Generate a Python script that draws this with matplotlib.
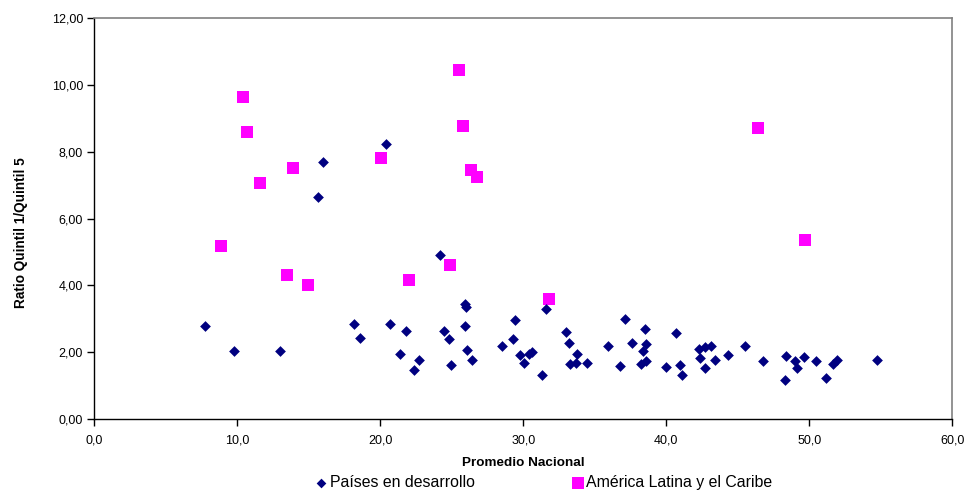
import matplotlib
matplotlib.use("Agg")
import matplotlib.pyplot as plt
from matplotlib.ticker import FuncFormatter, MultipleLocator

plt.rcParams['font.family'] = ['Liberation Sans', 'DejaVu Sans']

# Países en desarrollo
dev_x = [15.97, 15.66, 20.40, 7.76, 9.77, 12.97, 18.16, 18.58, 20.65,
         24.17, 21.80, 21.40, 22.38, 22.71, 24.48, 24.78, 24.97, 25.90, 25.97,
         25.90, 26.08, 26.39, 28.49, 29.40, 29.28, 29.79, 30.07, 30.40, 30.61,
         31.31, 31.57, 32.99, 33.20, 33.78, 33.27, 33.69, 34.48, 35.90, 36.76,
         37.09, 37.58, 38.49, 38.58, 38.37, 38.25, 38.60, 39.96, 40.65, 40.95,
         41.11, 42.27, 42.38, 42.68, 42.68, 43.10, 43.41, 44.29, 45.50, 46.78,
         48.37, 48.28, 48.98, 49.16, 49.61, 50.49, 51.19, 51.64, 51.92, 54.71]
dev_y = [7.70, 6.65, 8.25, 2.78, 2.05, 2.05, 2.85, 2.42, 2.85,
         4.91, 2.64, 1.94, 1.48, 1.76, 2.64, 2.39, 1.61, 3.43, 3.35,
         2.78, 2.07, 1.77, 2.19, 2.96, 2.39, 1.92, 1.67, 1.96, 2.01,
         1.31, 3.30, 2.60, 2.27, 1.95, 1.64, 1.69, 1.67, 2.19, 1.60,
         2.98, 2.29, 2.70, 2.25, 2.03, 1.66, 1.74, 1.55, 2.58, 1.61,
         1.31, 2.09, 1.84, 2.15, 1.52, 2.18, 1.76, 1.92, 2.19, 1.73,
         1.88, 1.17, 1.74, 1.53, 1.87, 1.73, 1.23, 1.66, 1.77, 1.77]

# América Latina y el Caribe
lac_x = [8.86, 10.38, 10.66, 11.57, 13.48, 13.87, 14.97, 20.07, 21.98,
         24.87, 25.48, 25.78, 26.36, 26.78, 31.77, 46.39, 49.70]
lac_y = [5.19, 9.63, 8.60, 7.08, 4.30, 7.51, 4.01, 7.82, 4.17,
         4.60, 10.45, 8.77, 7.46, 7.24, 3.59, 8.71, 5.35]

x_label = "Promedio Nacional"
y_label = "Ratio Quintil 1/Quintil 5"
series_names = ["Países en desarrollo", "América Latina y el Caribe"]

fig = plt.figure(figsize=(9.66, 4.90), dpi=100)
ax = fig.add_axes([0.0976, 0.1449, 0.8882, 0.8178])

ax.scatter(dev_x, dev_y, marker='D', s=30, color='#000080', linewidths=0,
           label=series_names[0], zorder=3)
ax.scatter(lac_x, lac_y, marker='s', s=80, color='#FF00FF', linewidths=0,
           label=series_names[1], zorder=2)

ax.set_xlim(0, 60)
ax.set_ylim(0, 12)
ax.xaxis.set_major_locator(MultipleLocator(10))
ax.yaxis.set_major_locator(MultipleLocator(2))
ax.xaxis.set_major_formatter(FuncFormatter(lambda v, p: f"{v:.1f}".replace('.', ',')))
ax.yaxis.set_major_formatter(FuncFormatter(lambda v, p: f"{v:.2f}".replace('.', ',')))
ax.tick_params(axis='both', direction='out', length=5, width=1, labelsize=9,
               color='black', labelcolor='black', pad=3)
ax.tick_params(axis='x', pad=6)

for s in ['left', 'bottom']:
    ax.spines[s].set_color('black')
    ax.spines[s].set_linewidth(1.0)
for s in ['top', 'right']:
    ax.spines[s].set_color('#808080')
    ax.spines[s].set_linewidth(1.2)

ax.set_xlabel(x_label, fontsize=9.7, fontweight='bold', labelpad=8)
ax.set_ylabel(y_label, fontsize=9.8, fontweight='bold')
ax.yaxis.set_label_coords(-0.0775, 0.464)

fig.legend(loc='lower center', bbox_to_anchor=(0.562, -0.03), ncol=2,
           frameon=False, fontsize=11.4, handletextpad=0.05, columnspacing=6.0,
           handlelength=1.0, markerscale=0.9)

fig.savefig("out.png", dpi=100)
